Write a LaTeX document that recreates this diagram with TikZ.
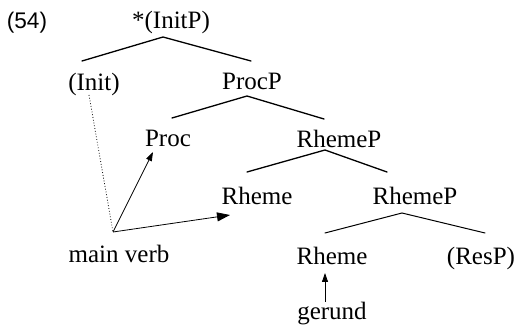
\documentclass[tikz,border=0pt]{standalone}
\usepackage{fontspec}
\setmainfont{Liberation Serif}
\newfontfamily\exfont{Liberation Sans}
\usepackage{tikz}
\usetikzlibrary{arrows.meta}

\begin{document}
\begin{tikzpicture}[x=0.5pt, y=-0.5pt,
  lbl/.style={inner sep=0pt, anchor=base, font=\fontsize{12.5}{14}\selectfont},
  branch/.style={line width=0.65pt, line cap=round},
  lowbranch/.style={line width=0.5pt, line cap=round},
  move/.style={line width=0.4pt, -{Triangle[length=4.5pt, width=3pt]}},
  bigmove/.style={line width=0.4pt, -{Triangle[length=6.5pt, width=4.5pt]}}]
\useasboundingbox (0,0) rectangle (515,326);
%
\node[inner sep=0pt, anchor=base, font=\exfont\fontsize{11.3}{13}\selectfont] (exnum) at (27,29) {(54)};
\node[lbl] (initp) at (171,29) {*(InitP)};
\node[lbl] (init) at (94,91) {(Init)};
\node[lbl] (procp) at (252,90) {ProcP};
\node[lbl] (proc) at (168,147) {Proc};
\node[lbl] (rhemepa) at (339,148) {RhemeP};
\node[lbl] (rhemea) at (257,205) {Rheme};
\node[lbl] (rhemepb) at (415,205) {RhemeP};
\node[lbl] (mainverb) at (119,263) {main verb};
\node[lbl] (rhemeb) at (332,264) {Rheme};
\node[lbl] (resp) at (481,264) {(ResP)};
\node[lbl] (gerund) at (332,320) {gerund};
%
\draw[branch] ([shift={(-12,-30)}]init.base) -- ([shift={(-8,8)}]initp.base) -- ([shift={(-1,-29)}]procp.base);
\draw[branch] ([shift={(4,-29)}]proc.base) -- ([shift={(-5,6)}]procp.base) -- ([shift={(-15,-29)}]rhemepa.base);
\draw[branch] ([shift={(-10,-33)}]rhemea.base) -- ([shift={(-14,2)}]rhemepa.base) -- ([shift={(-28,-33)}]rhemepb.base);
\draw[lowbranch] ([shift={(-7,-31)}]rhemeb.base) -- ([shift={(-13,8)}]rhemepb.base) -- ([shift={(4,-31)}]resp.base);
%
\coordinate (mv) at ([shift={(-6,-31)}]mainverb.base);
\draw[line width=0.4pt, densely dotted] ([shift={(-5,4)}]init.base) -- (mv);
\draw[move] (mv) -- ([shift={(-15,5)}]proc.base);
\draw[bigmove] (mv) -- ([shift={(-27,10)}]rhemea.base);
\draw[move] ([shift={(-7,-18)}]gerund.base) -- ([shift={(-7,9)}]rhemeb.base);
\end{tikzpicture}
\end{document}
